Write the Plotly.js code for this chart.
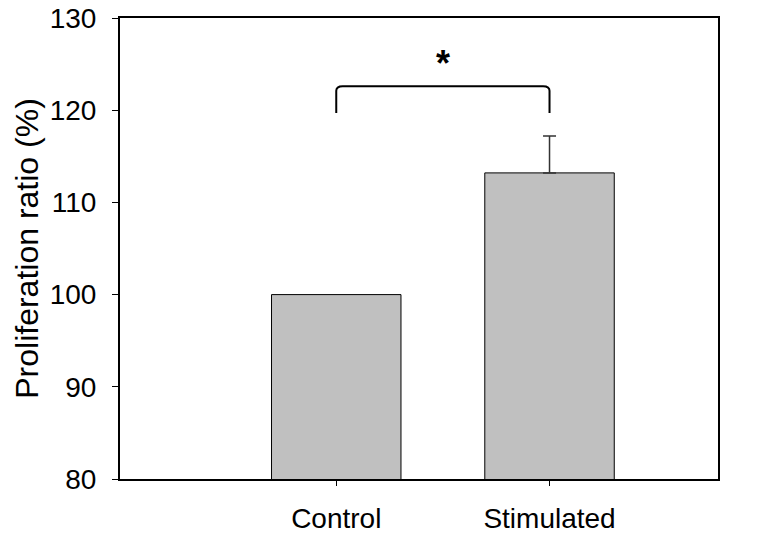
<!DOCTYPE html>
<html>
<head>
<meta charset="utf-8">
<script src="https://cdn.plot.ly/plotly-3.0.1.min.js"></script>
<style>html,body{margin:0;padding:0;background:#fff;}#chart{width:772px;height:533px;}</style>
</head>
<body>
<div id="chart"></div>
<script>
const categories = ["Control", "Stimulated"];
const proliferation = [100, 113.2];
const errorUp = [0, 4.0];
const yTicks = [80, 90, 100, 110, 120, 130];
const bracketTop = 122.6;
const bracketLeg = 119.7;
const starY = 125.1;

const FONT = "Liberation Sans, Arial, sans-serif";

const barTrace = {
  type: "bar",
  x: categories,
  y: proliferation,
  width: 0.607,
  marker: {color: "#c0c0c0", line: {color: "#000", width: 1}},
  hoverinfo: "none"
};

// error bars only where an error is reported
const errIdx = errorUp.map((e, i) => i).filter(i => errorUp[i] > 0);
const errTrace = {
  type: "scatter", mode: "none",
  x: errIdx.map(i => categories[i]),
  y: errIdx.map(i => proliferation[i]),
  error_y: {type: "data", array: errIdx.map(i => errorUp[i]), arrayminus: errIdx.map(() => 0),
            symmetric: false, color: "#333", thickness: 1.5, width: 6.5, visible: true},
  hoverinfo: "none"
};

const c = 0.03;
const bracketPath = `M0,${bracketLeg} L0,${bracketTop - 0.5} Q0,${bracketTop} ${c},${bracketTop} L${1 - c},${bracketTop} Q1,${bracketTop} 1,${bracketTop - 0.5} L1,${bracketLeg}`;

const layout = {
  width: 772, height: 533,
  margin: {l: 120, r: 54, t: 18, b: 54},
  paper_bgcolor: "#fff", plot_bgcolor: "#fff",
  showlegend: false,
  font: {family: FONT, color: "#000"},
  xaxis: {
    type: "category",
    range: [-1.014, 1.79],
    showgrid: false, zeroline: false,
    showline: true, linecolor: "#000", linewidth: 2, mirror: true,
    ticks: "outside", ticklen: 5, tickwidth: 1, tickcolor: "#000",
    ticklabelstandoff: 8,
    tickfont: {size: 28, family: FONT}
  },
  yaxis: {
    range: [80, 130],
    tickvals: yTicks,
    ticktext: yTicks.map(String),
    showgrid: false, zeroline: false,
    showline: true, linecolor: "#000", linewidth: 2, mirror: true,
    ticks: "outside", ticklen: 6, tickwidth: 1, tickcolor: "#000",
    ticklabelstandoff: 10,
    tickfont: {size: 28, family: FONT},
    title: {text: "Proliferation ratio (%)", font: {size: 32, family: FONT}, standoff: 1}
  },
  shapes: [{
    type: "path", xref: "x", yref: "y",
    path: bracketPath,
    line: {color: "#000", width: 2}
  }],
  annotations: [{
    x: 0.5, y: starY, xref: "x", yref: "y",
    text: "<b>*</b>", showarrow: false,
    font: {size: 36, family: FONT, color: "#000"}
  }]
};

Plotly.newPlot("chart", [barTrace, errTrace], layout, {displayModeBar: false, staticPlot: true});
</script>
</body>
</html>
